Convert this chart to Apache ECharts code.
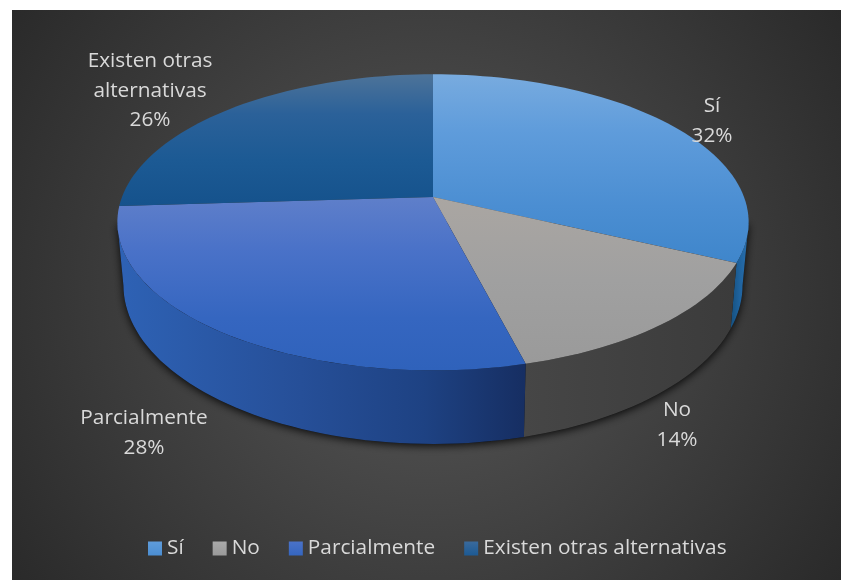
<!DOCTYPE html>
<html>
<head>
<meta charset="utf-8">
<title>Pie</title>
<style>
html, body { margin: 0; padding: 0; background: #fff; }
#pie { width: 841px; height: 580px; }
</style>
<script src="https://cdn.jsdelivr.net/npm/echarts@6/dist/echarts.min.js"></script>
</head>
<body>
<div id="pie"></div>
<script>
var categories = ['Sí', 'No', 'Parcialmente', 'Existen otras alternativas'];
var values = [32, 14, 28, 26];
var labelLines = ['Sí', 'No', 'Parcialmente', 'Existen otras\nalternativas'];

// where the data labels sit
var labelSpots = [[712, 121], [677, 425], [144, 433], [150, 91]];

// top face colours, light falls from the back of the pie
var topStops = [
    [[0, '#78abdf'], [0.3, '#5f9cdb'], [0.7, '#4b8ed2'], [1, '#3f86cb']],
    [[0, '#aaa6a2'], [0.5, '#a0a0a0'], [1, '#9a9a9a']],
    [[0, '#5f7fca'], [0.3, '#4a72c8'], [0.7, '#3566c0'], [1, '#2f62bb']],
    [[0, '#4d7399'], [0.3, '#2b6199'], [0.65, '#1c5a94'], [1, '#15528c']]
];
var wallStops = [
    [[0, '#15507f'], [0.5, '#1f639e'], [1, '#2a6fae']],
    [[0, '#464646'], [1, '#3b3b3b']],
    [[0, '#2e62b5'], [0.45, '#264f98'], [0.75, '#1e4283'], [1, '#162e62']],
    [[0, '#1c5a94'], [1, '#15528c']]
];
var legendStops = [
    [[0, '#5f9cdb'], [1, '#4b8ed2']],
    [[0, '#aaaaaa'], [1, '#9a9a9a']],
    [[0, '#4a72c8'], [1, '#3566c0']],
    [[0, '#3a6a9c'], [1, '#1c5a94']]
];

var total = values.reduce(function (a, b) { return a + b; }, 0);

// perspective of the tilted disc: plan circle to screen
var persp = -0.171;
var topPlane = { cx: 433, r: 311, a: 110, b: 197 };
var basePlane = { cx: 433, r: 305, a: 110, b: 258 };

// the wall is only seen between these two turns of the circle (100 and 260 degrees)
var wallFrom = total * 100 / 360;
var wallTo = total * 260 / 360;

function project(plane, share) {
    var t = share / total * Math.PI * 2;
    var px = Math.sin(t), py = -Math.cos(t);
    var w = 1 + persp * py;
    return [plane.cx + plane.r * px / w, (plane.a * py + plane.b) / w];
}

function arc(plane, from, to) {
    var pts = [];
    var n = Math.max(2, Math.ceil((to - from) * 2));
    for (var i = 0; i <= n; i++) {
        pts.push(project(plane, from + (to - from) * i / n));
    }
    return pts;
}

function grad(stops, horizontal) {
    return new echarts.graphic.LinearGradient(0, 0, horizontal ? 1 : 0, horizontal ? 0 : 1,
        stops.map(function (s) { return { offset: s[0], color: s[1] }; }));
}

function renderTop(idx) {
    return function (params, api) {
        var start = api.value(1), end = start + api.value(0);
        var pts = [[topPlane.cx, topPlane.b]].concat(arc(topPlane, start, end));
        var pct = Math.round(api.value(0) / total * 100) + '%';
        return {
            type: 'group',
            children: [{
                type: 'polygon',
                shape: { points: pts },
                style: { fill: grad(topStops[idx]) }
            }, {
                type: 'text',
                z2: 10,
                style: {
                    text: labelLines[idx] + '\n' + pct,
                    x: labelSpots[idx][0],
                    y: labelSpots[idx][1],
                    align: 'center',
                    verticalAlign: 'middle',
                    fill: '#d9d9d9',
                    font: '20.8px "Open Sans"',
                    lineHeight: 29.5
                }
            }]
        };
    };
}

function renderWall(idx) {
    return function (params, api) {
        var start = Math.max(api.value(1), wallFrom);
        var end = Math.min(api.value(1) + api.value(0), wallTo);
        if (end <= start) {
            return null;
        }
        var pts = arc(topPlane, start, end).concat(arc(basePlane, start, end).reverse());
        return {
            type: 'polygon',
            shape: { points: pts },
            style: { fill: grad(wallStops[idx], true) }
        };
    };
}

// shadow only follows the front of the disc, the chord across it stays under the top face
function renderShadow(params, api) {
    var pts = arc(basePlane, wallFrom, wallTo).concat([project(topPlane, wallTo), project(topPlane, wallFrom)]);
    return {
        type: 'polygon',
        shape: { points: pts },
        style: { fill: '#111', shadowBlur: 9, shadowColor: 'rgba(0,0,0,0.85)', shadowOffsetY: 2 }
    };
}

var series = [{
    name: 'shadow',
    type: 'custom',
    coordinateSystem: 'none',
    silent: true,
    z: 1,
    renderItem: renderShadow,
    data: [[total, 0]]
}];
var running = 0;
categories.forEach(function (name, i) {
    var row = [[values[i], running]];
    series.push({
        name: name + ' wall',
        type: 'custom',
        coordinateSystem: 'none',
        silent: true,
        z: 2,
        renderItem: renderWall(i),
        data: row
    });
    series.push({
        name: name,
        type: 'custom',
        coordinateSystem: 'none',
        silent: true,
        z: 3,
        renderItem: renderTop(i),
        itemStyle: { color: grad(legendStops[i]) },
        data: row
    });
    running += values[i];
});

var myChart = echarts.init(document.getElementById('pie'));
var option = {
    animation: false,
    graphic: [{
        type: 'rect',
        silent: true,
        z: -10,
        shape: { x: 12, y: 10, width: 829, height: 570 },
        style: {
            fill: new echarts.graphic.RadialGradient(0.5, 0.5, 0.88, [
                { offset: 0, color: '#585858' },
                { offset: 1, color: '#2a2a2a' }
            ])
        }
    }],
    legend: {
        left: 148,
        top: 538,
        padding: 0,
        itemWidth: 14,
        itemHeight: 14,
        itemGap: 29,
        selectedMode: false,
        textStyle: { color: '#d9d9d9', fontSize: 20.8, fontFamily: 'Open Sans' },
        data: categories.map(function (name) { return { name: name, icon: 'rect' }; })
    },
    series: series
};
myChart.setOption(option);
</script>
</body>
</html>
